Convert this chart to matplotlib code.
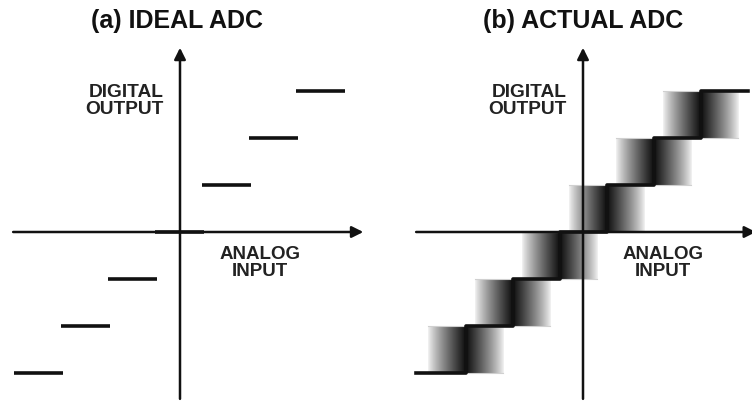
import numpy as np
import matplotlib.pyplot as plt

# output codes (in LSB) and the analog code transitions
codes = [-3, -2, -1, 0, 1, 2, 3]
transitions = [-2.5, -1.5, -0.5, 0.5, 1.5, 2.5]
band_half = 0.8            # spread of the code transition in the actual ADC (LSB)
seg_lo, seg_hi = -0.54, 0.52   # ideal segment extent around each code
stair_start, stair_end = -3.55, 3.52

titles = ["(a) IDEAL ADC", "(b) ACTUAL ADC"]
y_label = "DIGITAL\nOUTPUT"
x_label = "ANALOG\nINPUT"

plt.rcParams['font.family'] = ['Liberation Sans', 'DejaVu Sans']
ink = '#111111'

fig = plt.figure(figsize=(7.52, 4.02), dpi=100)
ax1 = fig.add_axes([0, 0, 0.5, 1])
ax2 = fig.add_axes([0.5, 0, 0.5, 1])

# 47 px per LSB, origins at (180,233) and (583,233) px
ylim = ((233 - 402) / 47, 233 / 47)
xlim1 = (-180 / 47, (376 - 180) / 47)
xlim2 = ((376 - 583) / 47, (752 - 583) / 47)


def draw_axes(ax, title, title_x, x_tip):
    arrow = dict(arrowstyle='-|>', lw=1.8, color=ink, mutation_scale=17,
                 shrinkA=0, shrinkB=0)
    ax.annotate('', xy=(x_tip, 0), xytext=(-3.55, 0), arrowprops=arrow,
                zorder=3, annotation_clip=False)
    ax.annotate('', xy=(0, 3.92), xytext=(0, -3.55), arrowprops=arrow, zorder=3)
    ax.text(title_x, 4.50, title, ha='center', va='center', fontsize=18,
            fontweight='bold', color=ink)
    ax.text(-0.34, 2.81, y_label, ha='right', va='center', fontsize=13.8,
            fontweight='bold', color='#222222', linespacing=0.95)
    ax.text(1.70, -0.64, x_label, ha='center', va='center', fontsize=13.5,
            fontweight='bold', color='#222222', linespacing=0.95)


# (a) ideal: one flat segment per code
for c in codes:
    ax1.plot([c + seg_lo, c + seg_hi], [c, c], color=ink, lw=2.6,
             solid_capstyle='butt', zorder=4)
draw_axes(ax1, titles[0], -0.06, 3.9)

# (b) actual: staircase with blurred transitions
n = 200
d = np.linspace(-1, 1, n)
alpha = 0.05 + 0.9 * (1 - np.abs(d)) ** 0.85
rgba = np.zeros((1, n, 4))
rgba[..., 3] = alpha
for t in transitions:
    ax2.imshow(rgba, extent=[t - band_half, t + band_half, t - 0.5, t + 0.5],
               aspect='auto', interpolation='bilinear', zorder=1)
    for lev in (t - 0.5, t + 0.5):
        ax2.plot([t - band_half, t + band_half], [lev, lev], color='#d0d0d0',
                 lw=0.8, zorder=1.5)

xs = [stair_start] + transitions + [stair_end]
ys = codes + [codes[-1]]
ax2.step(xs, ys, where='post', color=ink, lw=2.6, zorder=4)
draw_axes(ax2, titles[1], 0.0, 3.68)

for ax, xl in ((ax1, xlim1), (ax2, xlim2)):
    ax.set_xlim(*xl)
    ax.set_ylim(*ylim)
    ax.axis('off')

fig.savefig('out.png', dpi=100)
